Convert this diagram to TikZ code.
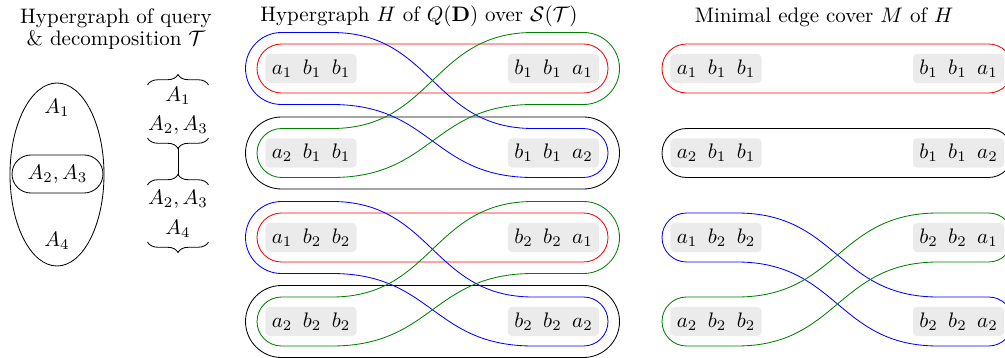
\documentclass[tikz,border=0pt]{standalone}
\usepackage{amsmath,amssymb}
\usepackage{xcolor}
\usepackage{tikz}
\usetikzlibrary{positioning,decorations.pathreplacing}
\definecolor{hgreen}{RGB}{0,128,0}
\tikzset{
  tuple/.style={fill=black!8, rounded corners=2pt, inner xsep=3pt, inner ysep=0pt, minimum height=14pt},
  hedge/.style={draw=#1},
  hedge/.default=black,
  inloop/.style={hedge=#1, rounded corners=11.66pt},
  outloop/.style={hedge=#1, rounded corners=17.14pt},
  ptitle/.style={anchor=base},
  bagbrace/.style={decorate, decoration={brace, amplitude=5pt}},
}

\begin{document}
\begin{tikzpicture}[x=0.476pt, y=0.476pt]
  \useasboundingbox (0,0) rectangle (1005,-358);

  \node[align=center] (qt) at (116,-29) {Hypergraph of query\\[-1.3pt]\& decomposition $\mathcal{T}$};
  \node[ptitle] (ht) at (419,-22) {Hypergraph $H$ of $Q(\mathbf{D})$ over $\mathcal{S}(\mathcal{T})$};
  \node[ptitle] (mt) at (824,-22.5) {Minimal edge cover $M$ of $H$};

  \draw (57,-174.5) ellipse [x radius=47, y radius=91.5];
  \node (q1) at (57,-108) {$A_1$};
  \node[draw, rounded corners=9pt, minimum width=43.3pt, minimum height=18.1pt, inner sep=0pt] (q23) at (57.5,-174) {$A_2,A_3$};
  \node (q4) at (57,-241) {$A_4$};

  \node (t1a) at (178,-96) {$A_1$};
  \node (t1b) at (178,-125.5) {$A_2,A_3$};
  \node (t2a) at (178,-199) {$A_2,A_3$};
  \node (t2b) at (178,-228.5) {$A_4$};
  \draw[bagbrace] (147.5,-85) -- (208.5,-85);
  \draw[bagbrace] (208.5,-138) -- (147.5,-138);
  \draw[bagbrace] (147.5,-185) -- (208.5,-185);
  \draw[bagbrace] (208.5,-242) -- (147.5,-242);
  \coordinate (t1s) at (178,-148.5);
  \coordinate (t2n) at (178,-174.5);
  \draw (t1s) -- (t2n);

  \draw[inloop=red] (257,-44) rectangle (608,-93);
  \draw[outloop=black] (245.5,-117) rectangle (619.5,-189);
  \draw[hedge=blue] (332,-32.5) -- (281.5,-32.5) arc[start angle=90, end angle=270, radius=36] -- (332,-104.5)
    .. controls (432.5,-104.5) and (432.5,-177.5) .. (533,-177.5) -- (583.5,-177.5)
    arc[start angle=-90, end angle=90, radius=24.5] -- (533,-128.5)
    .. controls (432.5,-128.5) and (432.5,-32.5) .. (332,-32.5) -- cycle;
  \draw[hedge=hgreen] (332,-128.5) -- (281.5,-128.5) arc[start angle=90, end angle=270, radius=24.5] -- (332,-177.5)
    .. controls (432.5,-177.5) and (432.5,-104.5) .. (533,-104.5) -- (583.5,-104.5)
    arc[start angle=-90, end angle=90, radius=36] -- (533,-32.5)
    .. controls (432.5,-32.5) and (432.5,-128.5) .. (332,-128.5) -- cycle;

  \draw[inloop=red] (257,-213) rectangle (608,-262);
  \draw[outloop=black] (245.5,-285.5) rectangle (619.5,-357.5);
  \draw[hedge=blue] (332,-201.5) -- (281.5,-201.5) arc[start angle=90, end angle=270, radius=36] -- (332,-273.5)
    .. controls (432.5,-273.5) and (432.5,-346) .. (533,-346) -- (583.5,-346)
    arc[start angle=-90, end angle=90, radius=24.5] -- (533,-297)
    .. controls (432.5,-297) and (432.5,-201.5) .. (332,-201.5) -- cycle;
  \draw[hedge=hgreen] (332,-297) -- (281.5,-297) arc[start angle=90, end angle=270, radius=24.5] -- (332,-346)
    .. controls (432.5,-346) and (432.5,-273.5) .. (533,-273.5) -- (583.5,-273.5)
    arc[start angle=-90, end angle=90, radius=36] -- (533,-201.5)
    .. controls (432.5,-201.5) and (432.5,-297) .. (332,-297) -- cycle;

  \draw[inloop=red] (662,-44) rectangle (1013,-93);
  \draw[inloop=black] (662,-128.5) rectangle (1013,-177.5);
  \draw[hedge=blue] (737,-213) -- (686.5,-213) arc[start angle=90, end angle=270, radius=24.5] -- (737,-262)
    .. controls (837.5,-262) and (837.5,-346) .. (938,-346) -- (988.5,-346)
    arc[start angle=-90, end angle=90, radius=24.5] -- (938,-297)
    .. controls (837.5,-297) and (837.5,-213) .. (737,-213) -- cycle;
  \draw[hedge=hgreen] (737,-297) -- (686.5,-297) arc[start angle=90, end angle=270, radius=24.5] -- (737,-346)
    .. controls (837.5,-346) and (837.5,-262) .. (938,-262) -- (988.5,-262)
    arc[start angle=-90, end angle=90, radius=24.5] -- (938,-213)
    .. controls (837.5,-213) and (837.5,-297) .. (737,-297) -- cycle;

  \node[tuple] (h1l) at (311,-68.5) {$a_1$\enspace$b_1$\enspace$b_1$};
  \node[tuple] (h1r) at (553.5,-68.5) {$b_1$\enspace$b_1$\enspace$a_1$};
  \node[tuple] (h2l) at (311,-153) {$a_2$\enspace$b_1$\enspace$b_1$};
  \node[tuple] (h2r) at (553.5,-153) {$b_1$\enspace$b_1$\enspace$a_2$};
  \node[tuple] (h3l) at (311,-237.5) {$a_1$\enspace$b_2$\enspace$b_2$};
  \node[tuple] (h3r) at (553.5,-237.5) {$b_2$\enspace$b_2$\enspace$a_1$};
  \node[tuple] (h4l) at (311,-321.5) {$a_2$\enspace$b_2$\enspace$b_2$};
  \node[tuple] (h4r) at (553.5,-321.5) {$b_2$\enspace$b_2$\enspace$a_2$};

  \node[tuple] (m1l) at (716,-68.5) {$a_1$\enspace$b_1$\enspace$b_1$};
  \node[tuple] (m1r) at (958.5,-68.5) {$b_1$\enspace$b_1$\enspace$a_1$};
  \node[tuple] (m2l) at (716,-153) {$a_2$\enspace$b_1$\enspace$b_1$};
  \node[tuple] (m2r) at (958.5,-153) {$b_1$\enspace$b_1$\enspace$a_2$};
  \node[tuple] (m3l) at (716,-237.5) {$a_1$\enspace$b_2$\enspace$b_2$};
  \node[tuple] (m3r) at (958.5,-237.5) {$b_2$\enspace$b_2$\enspace$a_1$};
  \node[tuple] (m4l) at (716,-321.5) {$a_2$\enspace$b_2$\enspace$b_2$};
  \node[tuple] (m4r) at (958.5,-321.5) {$b_2$\enspace$b_2$\enspace$a_2$};
\end{tikzpicture}
\end{document}
